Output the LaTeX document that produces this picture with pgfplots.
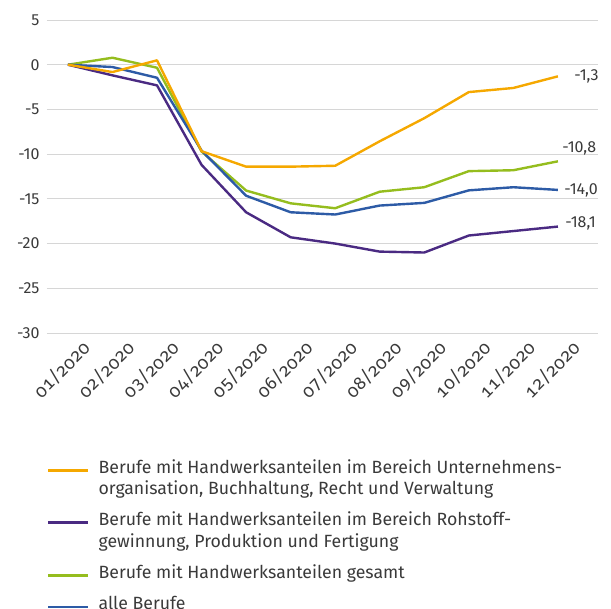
\documentclass[border=0pt]{standalone}
\usepackage{fontspec}
\setmainfont{Fira Sans}
\newfontfamily\osf{Fira Sans}[Numbers={OldStyle,Monospaced}]
\usepackage{pgfplots}
\pgfplotsset{compat=1.18}

\definecolor{cOrange}{HTML}{F5A800}
\definecolor{cPurple}{HTML}{4A2A82}
\definecolor{cGreen}{HTML}{95BD1E}
\definecolor{cBlue}{HTML}{2D5BA6}
\definecolor{cText}{HTML}{3A3A3A}

% row height strut for the legend rows
\newcommand{\lh}[1]{\rule{0pt}{#1pt}}

\begin{document}
\begin{tikzpicture}[x=1pt,y=1pt]
\useasboundingbox (-47,20) rectangle (564,-589);
\begin{axis}[
    at={(0,0)}, anchor=north west,
    scale only axis, width=551pt, height=313pt,
    xmin=0.53, xmax=12.9, ymin=-30, ymax=5,
    clip=false,
    axis line style={draw=none},
    tick style={draw=none},
    ytick={-30,-25,-20,-15,-10,-5,0,5},
    yticklabels={-30,-25,-20,-15,-10,-5,0,5},
    ymajorgrids,
    grid style={draw=black!16, line width=0.9pt},
    xtick={1,...,12},
    xticklabels={01/2020,02/2020,03/2020,04/2020,05/2020,06/2020,07/2020,08/2020,09/2020,10/2020,11/2020,12/2020},
    xticklabel style={font=\osf\fontsize{18}{21}\selectfont, text=cText, rotate=45, anchor=north east, xshift=8pt, yshift=-10pt},
    yticklabel style={font=\fontsize{16}{19}\selectfont, text=cText, xshift=-4pt},
    every axis plot/.append style={line width=2.4pt, line join=round},
    legend style={at={(0,-0.40)}, anchor=north west, draw=none, fill=none,
        font=\fontsize{17.7}{21}\selectfont, text=cText, row sep=0pt,
        column sep=9pt, inner sep=0pt,
        nodes={inner sep=0pt, anchor=base west}},
    legend cell align=left,
    legend image code/.code={\draw[#1] (0pt,0.3em) -- (40pt,0.3em);},
]
\addplot[color=cGreen, forget plot] coordinates {
(1,0) (2,0.78) (3,-0.34) (4,-9.7) (5,-14.07) (6,-15.5) (7,-16.05) (8,-14.2) (9,-13.7) (10,-11.9) (11,-11.8) (12,-10.8)};
\addplot[color=cBlue, forget plot] coordinates {
(1,0) (2,-0.26) (3,-1.46) (4,-9.6) (5,-14.65) (6,-16.5) (7,-16.75) (8,-15.75) (9,-15.45) (10,-14.05) (11,-13.7) (12,-14.0)};
\addplot[color=cPurple, forget plot] coordinates {
(1,0) (2,-1.19) (3,-2.31) (4,-11.2) (5,-16.5) (6,-19.3) (7,-20.0) (8,-20.9) (9,-21.0) (10,-19.1) (11,-18.6) (12,-18.1)};
\addplot[color=cOrange, forget plot] coordinates {
(1,0) (2,-0.82) (3,0.49) (4,-9.67) (5,-11.4) (6,-11.4) (7,-11.3) (8,-8.56) (9,-5.98) (10,-3.06) (11,-2.6) (12,-1.3)};

\addlegendimage{color=cOrange, line width=2.4pt}
\addlegendentry{\lh{15}Berufe mit Handwerksanteilen im Bereich Unternehmens-}
\addlegendimage{legend image code/.code={}}
\addlegendentry{\lh{20}organisation, Buchhaltung, Recht und Verwaltung}
\addlegendimage{color=cPurple, line width=2.4pt}
\addlegendentry{\lh{29}Berufe mit Handwerksanteilen im Bereich Rohstoff-}
\addlegendimage{legend image code/.code={}}
\addlegendentry{\lh{21}gewinnung, Produktion und Fertigung}
\addlegendimage{color=cGreen, line width=2.4pt}
\addlegendentry{\lh{29}Berufe mit Handwerksanteilen gesamt}
\addlegendimage{color=cBlue, line width=2.4pt}
\addlegendentry{\lh{30}alle Berufe}

\node[anchor=west, text=cText, font=\fontsize{16}{19}\selectfont, xshift=13pt] at (axis cs:12,-1.3) {-1,3};
\node[anchor=west, text=cText, font=\fontsize{16}{19}\selectfont, xshift=1pt, yshift=13pt] at (axis cs:12,-10.8) {-10,8};
\node[anchor=west, text=cText, font=\fontsize{16}{19}\selectfont, xshift=3pt] at (axis cs:12,-14.0) {-14,0};
\node[anchor=west, text=cText, font=\fontsize{16}{19}\selectfont, xshift=4pt, yshift=3pt] at (axis cs:12,-18.1) {-18,1};
\end{axis}
\end{tikzpicture}
\end{document}
